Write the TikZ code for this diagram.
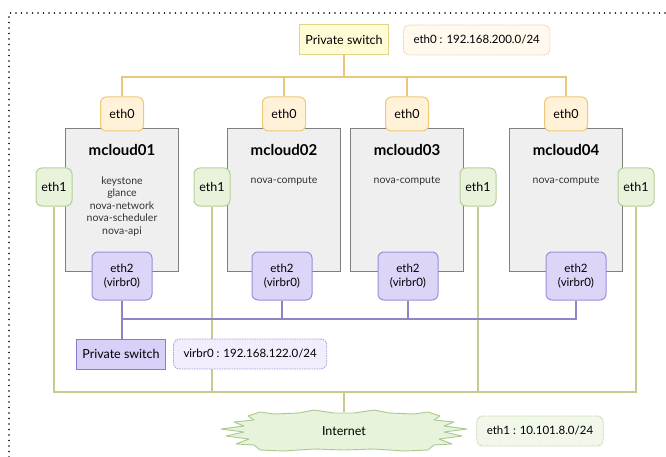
\documentclass[tikz,border=0pt]{standalone}
\usepackage{fontspec}
\setmainfont{Lato}
\usetikzlibrary{positioning,calc}
\definecolor{yline}{HTML}{E8C878}
\definecolor{ethOfill}{HTML}{FFF2D9}
\definecolor{ethOdraw}{HTML}{EFC878}
\definecolor{swOfill}{HTML}{FFFBD5}
\definecolor{swOdraw}{HTML}{E0D48C}
\definecolor{labOfill}{HTML}{FFF9EE}
\definecolor{labOdraw}{HTML}{F0C8A8}
\definecolor{hostfill}{HTML}{EFEFEF}
\definecolor{hostdraw}{HTML}{7F7F7F}
\definecolor{gline}{HTML}{C9C992}
\definecolor{ethIfill}{HTML}{E9F3DC}
\definecolor{ethIdraw}{HTML}{B5D096}
\definecolor{bline}{HTML}{8C86C8}
\definecolor{ethIIfill}{HTML}{DDD5F8}
\definecolor{ethIIdraw}{HTML}{9D8DD8}
\definecolor{swIfill}{HTML}{D9D0F8}
\definecolor{swIdraw}{HTML}{8A7BCF}
\definecolor{labIfill}{HTML}{F1EDFD}
\definecolor{labIdraw}{HTML}{A999E0}
\definecolor{inetfill}{HTML}{E7F3DA}
\definecolor{inetdraw}{HTML}{A9C98E}
\definecolor{labIIfill}{HTML}{F1F8EA}
\definecolor{labIIdraw}{HTML}{B9D2A2}
\begin{document}
\begin{tikzpicture}[x=1pt,y=-1pt,font=\fontsize{12.5}{14}\selectfont,
 host/.style={draw=hostdraw,fill=hostfill,line width=1pt,minimum width=113pt,minimum height=143pt},
 hname/.style={font=\fontsize{15}{17}\selectfont\bfseries},
 svc/.style={font=\fontsize{10.5}{12.5}\selectfont,align=center,text=black!80},
 nic/.style={rounded corners=6pt,line width=1pt,inner sep=0pt},
 ethzero/.style={nic,draw=ethOdraw,fill=ethOfill,minimum width=43pt,minimum height=34pt},
 ethone/.style={nic,draw=ethIdraw,fill=ethIfill,minimum width=36pt,minimum height=38pt},
 ethtwo/.style={nic,draw=ethIIdraw,fill=ethIIfill,minimum width=60pt,minimum height=48pt,align=center,font=\fontsize{11.5}{13.5}\selectfont},
 switch/.style={line width=1pt,minimum height=30pt,inner xsep=6pt},
 netlab/.style={rounded corners=6pt,line width=0.8pt,dash pattern=on 1.5pt off 1pt,minimum height=30pt,inner xsep=10pt,font=\fontsize{11.5}{12}\selectfont},
 ylink/.style={yline,line width=1.2pt},
 glink/.style={gline,line width=1.2pt},
 blink/.style={bline,line width=1.2pt},
 frame/.style={line width=1.7pt,line cap=round,dash pattern=on 0pt off 5.5pt}]
\useasboundingbox (0,0) rectangle (666,457);
\draw[frame] (9,457) -- (9,13) -- (666,13);
% hosts
\node[host] (m1) at (122,200) {};
\node[host] (m2) at (284,200) {};
\node[host] (m3) at (407,200) {};
\node[host] (m4) at (566,200) {};
\node[hname] (n1) at (122,150) {mcloud01};
\node[hname] (n2) at (284,150) {mcloud02};
\node[hname] (n3) at (407,150) {mcloud03};
\node[hname] (n4) at (566,150) {mcloud04};
\node[svc,anchor=north] (s1) at (122,173) {keystone\\glance\\nova-network\\nova-scheduler\\nova-api};
\node[svc] (s2) at (284,181) {nova-compute};
\node[svc] (s3) at (407,181) {nova-compute};
\node[svc] (s4) at (566,181) {nova-compute};
% eth0
\node[switch,draw=swOdraw,fill=swOfill] (sw0) at (344,40) {Private switch};
\node[netlab,draw=labOdraw,fill=labOfill,right=14pt of sw0] (lab0) {eth0 : 192.168.200.0/24};
\node[ethzero] (a0) at (122,114) {eth0};
\node[ethzero] (b0) at (284,114) {eth0};
\node[ethzero] (c0) at (407,114) {eth0};
\node[ethzero] (d0) at (566,114) {eth0};
\coordinate (ybus) at (344,77);
\draw[ylink] (sw0) -- (ybus);
\draw[ylink] (a0.north) |- (ybus) -| (d0.north);
\draw[ylink] (b0.north) -- (b0.north |- ybus);
\draw[ylink] (c0.north) -- (c0.north |- ybus);
% eth1
\node[ethone] (a1) at (54,187) {eth1};
\node[ethone] (b1) at (212,187) {eth1};
\node[ethone] (c1) at (478,187) {eth1};
\node[ethone] (d1) at (636,187) {eth1};
\coordinate (gbus) at (344,392);
\coordinate (itop) at (344,412);
\draw[glink] (a1.south) |- (gbus) -| (d1.south);
\draw[glink] (b1.south) -- (b1.south |- gbus);
\draw[glink] (c1.south) -- (c1.south |- gbus);
\draw[glink] (gbus) -- (itop);
% eth2
\node[ethtwo] (a2) at (122,276) {eth2\\(virbr0)};
\node[ethtwo] (b2) at (282,276) {eth2\\(virbr0)};
\node[ethtwo] (c2) at (408,276) {eth2\\(virbr0)};
\node[ethtwo] (d2) at (576,276) {eth2\\(virbr0)};
\node[switch,draw=swIdraw,fill=swIfill] (sw1) at (121,354) {Private switch};
\node[netlab,draw=labIdraw,fill=labIfill,right=7pt of sw1] (lab1) {virbr0 : 192.168.122.0/24};
\coordinate (bbus) at (122,319);
\draw[blink] (a2.south) -- (sw1.north -| a2.south);
\draw[blink] (bbus) -| (d2.south);
\draw[blink] (b2.south) -- (b2.south |- bbus);
\draw[blink] (c2.south) -- (c2.south |- bbus);
% internet
\coordinate (ic) at (344,431);
\draw[inetdraw,fill=inetfill,line width=0.9pt,line join=round,shift={(ic)}]
 (-84,-19) -- (-70,-17) -- (-45,-18) -- (-30,-21) -- (-10,-18) -- (10,-18) -- (30,-21) -- (45,-18) -- (70,-17) -- (84,-19)
 -- (96,-15) -- (90,-11) -- (110,-9) -- (100,-5) -- (123,-2) -- (100,1) -- (118,5) -- (95,8) -- (108,13) -- (90,14) -- (84,19)
 -- (60,20) -- (30,18) -- (0,19) -- (-30,18) -- (-60,20) -- (-84,19)
 -- (-90,14) -- (-108,13) -- (-95,8) -- (-118,5) -- (-100,1) -- (-123,-2) -- (-100,-5) -- (-110,-9) -- (-90,-11) -- (-96,-15) -- cycle;
\node (inet) at (ic) {Internet};
\node[netlab,draw=labIIdraw,fill=labIIfill] (lab2) at (540,431) {eth1 : 10.101.8.0/24};
\end{tikzpicture}
\end{document}
